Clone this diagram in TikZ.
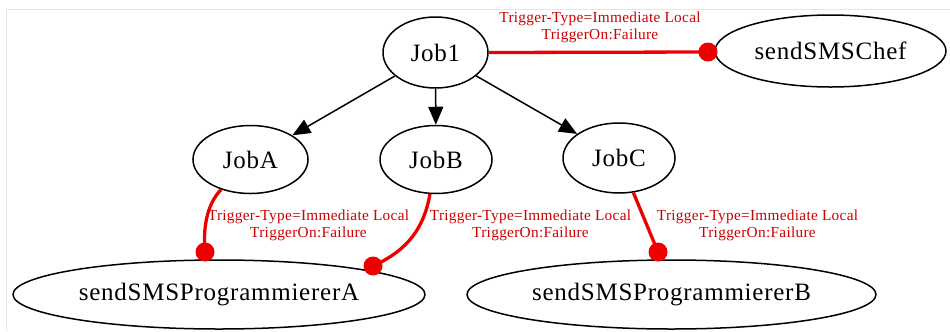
\documentclass[tikz,border=0pt]{standalone}
\usepackage{fontspec}
\setmainfont{Liberation Serif}
\newfontfamily\nodefnt[LetterSpace=3]{Liberation Serif}
\newfontfamily\lblfnt[LetterSpace=2]{Liberation Serif}
\usetikzlibrary{shapes.geometric,arrows.meta}
\definecolor{edgered}{RGB}{238,0,0}
\definecolor{textred}{RGB}{205,0,0}
\begin{document}
\begin{tikzpicture}[x=1bp,y=-1bp,
  jobnode/.style={ellipse,draw=black,line width=1.5bp,inner sep=0pt,
     font=\nodefnt\fontsize{25bp}{28bp}\selectfont},
  jedge/.style={draw=black,line width=1.5bp,-{Triangle[length=18bp,width=15bp]}},
  redge/.style={draw=edgered,line width=3.3bp},
  reddot/.style={fill=edgered},
  elabel/.style={text=textred,align=center,inner sep=0pt,
     font=\lblfnt\fontsize{15.3bp}{17bp}\selectfont},
  frameline/.style={draw=black!10,line width=1bp}
]
\useasboundingbox (0,0) rectangle (950,331);
\fill[white] (0,0) rectangle (950,331);
\draw[frameline] (6,331) -- (6,9) -- (950,9);

% nodes
\node[jobnode,minimum width=105bp,minimum height=71bp] (Job1) at (435.5,52.5) {Job1};
\node[jobnode,minimum width=231bp,minimum height=72bp] (Chef) at (830.5,51) {sendSMSChef};
\node[jobnode,minimum width=115bp,minimum height=68bp] (JobA) at (250.5,159.5) {JobA};
\node[jobnode,minimum width=112bp,minimum height=68bp] (JobB) at (436,159.5) {JobB};
\node[jobnode,minimum width=112bp,minimum height=70bp] (JobC) at (619,158) {JobC};
\node[jobnode,minimum width=412bp,minimum height=69bp] (SA) at (219,294.5) {sendSMSProgrammiererA};
\node[jobnode,minimum width=409bp,minimum height=69bp] (SB) at (671.5,294.5) {sendSMSProgrammiererB};

% dot coordinates
\coordinate (dChef) at (708,52);
\coordinate (dA) at (205,252);
\coordinate (dB) at (373,266);
\coordinate (dC) at (658,252);

% black edges
\draw[jedge] (Job1) -- (JobA);
\draw[jedge] (Job1) -- (JobB);
\draw[jedge] (Job1) -- (JobC);

% red edges
\draw[redge] (Job1.east) -- (dChef);
\fill[reddot] (dChef) circle (9.5bp);
\draw[redge] (JobA) .. controls (206,205) and (203,230) .. (dA);
\fill[reddot] (dA) circle (9.5bp);
\draw[redge] (JobB) .. controls (424,228) and (408,250) .. (dB);
\fill[reddot] (dB) circle (9.5bp);
\draw[redge] (JobC) -- (dC);
\fill[reddot] (dC) circle (9.5bp);

% labels
\node[elabel] (lChef) at (600,27.5) {Trigger-Type=Immediate Local\\TriggerOn:Failure};
\node[elabel] (lA) at (308.5,225.5) {Trigger-Type=Immediate Local\\TriggerOn:Failure};
\node[elabel] (lB) at (530.5,225.5) {Trigger-Type=Immediate Local\\TriggerOn:Failure};
\node[elabel] (lC) at (757.5,225.5) {Trigger-Type=Immediate Local\\TriggerOn:Failure};
\end{tikzpicture}
\end{document}
